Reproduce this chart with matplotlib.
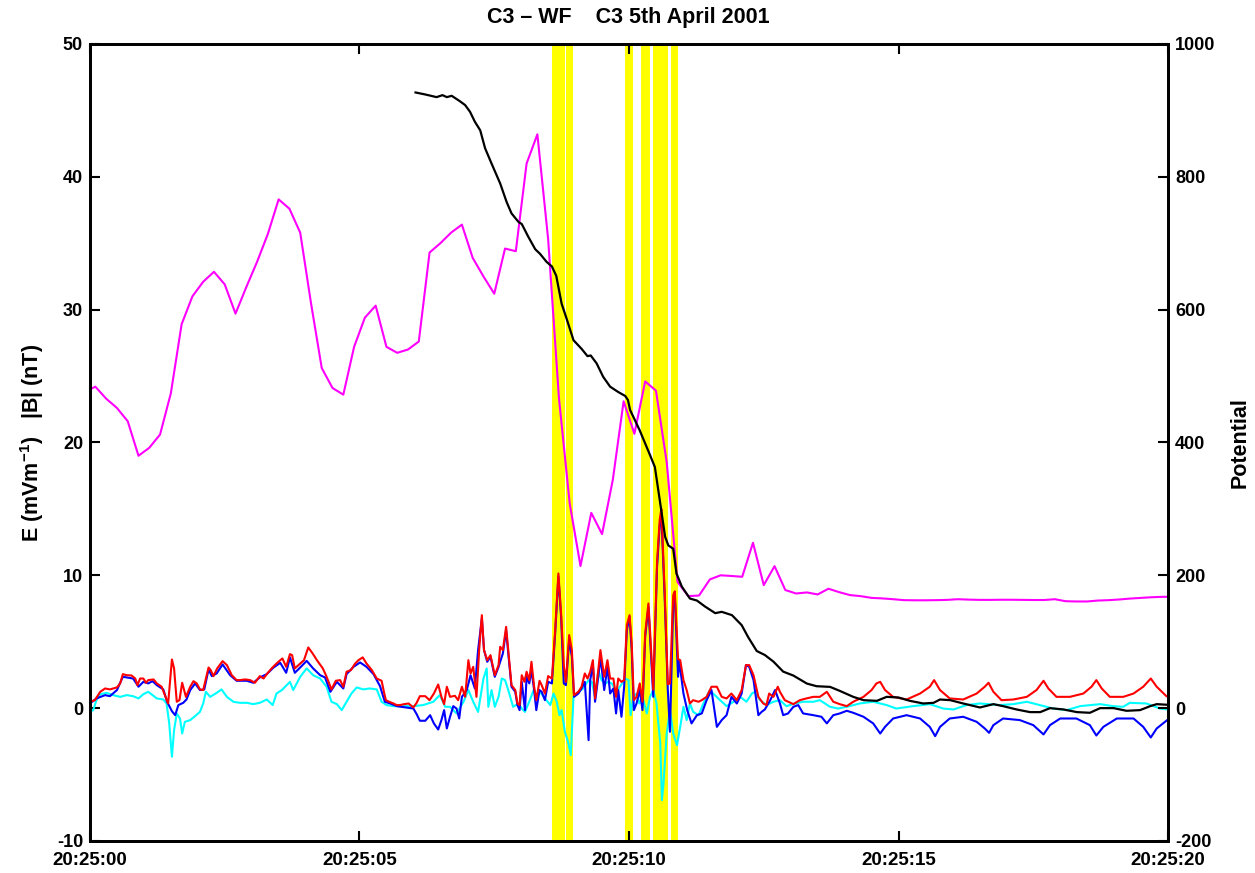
import matplotlib
matplotlib.use("Agg")
import matplotlib.pyplot as plt
import numpy as np

### STYLE ###

plt.rcParams['font.family'] = ['Liberation Sans', 'DejaVu Sans']
plt.rcParams['font.weight'] = 'bold'
plt.rcParams['font.size'] = 13
plt.rcParams['axes.unicode_minus'] = False
plt.rcParams['mathtext.fontset'] = 'custom'
plt.rcParams['mathtext.rm'] = 'Liberation Sans:bold'
plt.rcParams['mathtext.it'] = 'Liberation Sans:bold'
plt.rcParams['mathtext.bf'] = 'Liberation Sans:bold'

### DATA ###

TITLE = "C3 \u2013 WF    C3 5th April 2001"
x_ticks = [0, 5, 10, 15, 20]
x_labels = ["20:25:00", "20:25:05", "20:25:10", "20:25:15", "20:25:20"]

# highlighted intervals (seconds after 20:25:00)
bands = [(8.57, 8.81), (8.83, 8.97), (9.93, 10.07),
         (10.22, 10.39), (10.45, 10.72), (10.78, 10.90)]

# |B| (nT), one sample every 0.2 s starting at -0.1 s
b_start, b_step = -0.1, 0.2
b_vals = [23.8, 24.2, 23.3, 22.6, 21.6, 19.0, 19.6, 20.6, 23.7, 28.9,
          31.0, 32.1, 32.85, 31.9, 29.7, 31.7, 33.6, 35.7, 38.3, 37.6,
          35.8, 30.5, 25.6, 24.1, 23.6, 27.2, 29.4, 30.3, 27.2, 26.75,
          27.0, 27.6, 34.3, 35.0, 35.8, 36.4, 33.9, 32.5, 31.2, 34.6,
          34.4, 41.0, 43.2, 35.3, 23.35, 15.4, 10.7, 14.7, 13.1, 17.2,
          23.1, 20.65, 24.6, 23.9, 18.5, 9.5, 8.43, 8.48, 9.69, 10.0,
          9.95, 9.89, 12.45, 9.26, 10.69, 8.89, 8.63, 8.71, 8.56, 8.99,
          8.73, 8.51, 8.43, 8.3, 8.26, 8.2, 8.13, 8.12, 8.12, 8.13,
          8.15, 8.2, 8.17, 8.15, 8.15, 8.16, 8.16, 8.15, 8.14, 8.14,
          8.2, 8.05, 8.03, 8.03, 8.1, 8.13, 8.18, 8.25, 8.3, 8.35,
          8.38, 8.38]

# potential (right axis): (time, value)
pot_pts = [(6.04, 927), (6.22, 924), (6.43, 920), (6.54, 923), (6.62, 920),
           (6.71, 922), (6.86, 914), (6.96, 908), (7.05, 898), (7.14, 883),
           (7.24, 870), (7.33, 843), (7.45, 820), (7.61, 790), (7.73, 762),
           (7.82, 745), (7.95, 732), (8.01, 729), (8.13, 710), (8.26, 691),
           (8.35, 684), (8.47, 672), (8.57, 665), (8.65, 651), (8.75, 609),
           (8.84, 587), (8.97, 554), (9.12, 541), (9.23, 530), (9.29, 531),
           (9.40, 519), (9.52, 499), (9.65, 484), (9.80, 476), (9.93, 470),
           (9.98, 464), (10.02, 449), (10.20, 418), (10.39, 381), (10.48, 363),
           (10.58, 308), (10.67, 258), (10.73, 245), (10.82, 240), (10.88, 203),
           (10.98, 183), (11.13, 165), (11.26, 162), (11.41, 153), (11.60, 143),
           (11.72, 145), (11.91, 140), (12.09, 125), (12.21, 107), (12.37, 86),
           (12.52, 80), (12.68, 70), (12.86, 55), (13.05, 49), (13.30, 37),
           (13.48, 33), (13.73, 32), (13.91, 26), (14.16, 17), (14.35, 12),
           (14.60, 11), (14.78, 17), (15.00, 16), (15.21, 11), (15.46, 7),
           (15.65, 8), (15.77, 13), (15.96, 12), (16.20, 7), (16.51, 1),
           (16.76, 6), (16.94, 3), (17.19, -2), (17.44, -6), (17.63, -6),
           (17.81, 0), (18.06, -2), (18.31, -6), (18.55, -7), (18.74, 0),
           (18.99, 0), (19.23, -4), (19.48, -3), (19.67, 3), (19.79, 6),
           (20.00, 5)]

# E components (mV/m): (time, value)
e_red = [(0.00, 0.48), (0.09, 0.60), (0.19, 1.23), (0.28, 1.48), (0.37, 1.41),
         (0.50, 1.56), (0.56, 1.86), (0.61, 2.56), (0.68, 2.48), (0.77, 2.46),
         (0.84, 2.23), (0.88, 1.73), (0.93, 2.23), (0.99, 2.23), (1.04, 1.91),
         (1.08, 2.11), (1.18, 2.16), (1.24, 1.86), (1.33, 1.61), (1.39, 0.98),
         (1.45, 0.35), (1.52, 3.66), (1.56, 2.99), (1.61, 0.48), (1.66, 0.60),
         (1.71, 1.91), (1.78, 0.85), (1.86, 1.61), (1.92, 2.03), (1.98, 1.86),
         (2.04, 1.41), (2.10, 1.36), (2.20, 3.06), (2.24, 2.86), (2.29, 2.41),
         (2.36, 2.99), (2.46, 3.54), (2.54, 3.24), (2.63, 2.48), (2.72, 2.11),
         (2.78, 2.11), (2.88, 2.16), (2.97, 2.11), (3.06, 1.91), (3.15, 2.41),
         (3.22, 2.23), (3.29, 2.61), (3.37, 2.99), (3.46, 3.36), (3.53, 3.61),
         (3.57, 3.74), (3.64, 3.11), (3.71, 4.07), (3.75, 3.99), (3.80, 2.99),
         (3.90, 3.36), (3.97, 3.61), (4.05, 4.57), (4.13, 4.12), (4.21, 3.61),
         (4.32, 2.99), (4.39, 2.36), (4.48, 1.41), (4.56, 2.06), (4.64, 2.11),
         (4.70, 1.61), (4.76, 2.74), (4.84, 2.86), (4.92, 3.36), (4.98, 3.61),
         (5.06, 3.82), (5.13, 3.36), (5.23, 2.86), (5.32, 2.23), (5.41, 2.06),
         (5.46, 1.10), (5.49, 0.60), (5.55, 0.48), (5.63, 0.35), (5.69, 0.23),
         (5.75, 0.23), (5.83, 0.30), (5.91, 0.35), (6.00, 0.05), (6.06, 0.40),
         (6.12, 0.90), (6.22, 0.90), (6.30, 0.60), (6.38, 1.10), (6.46, 1.78),
         (6.52, 0.85), (6.57, 0.30), (6.62, 1.61), (6.68, 0.85), (6.77, 0.93),
         (6.83, 0.60), (6.90, 1.61), (6.96, 0.85), (7.02, 3.61), (7.06, 2.61),
         (7.11, 3.11), (7.17, 0.85), (7.22, 4.37), (7.27, 7.00), (7.31, 4.37),
         (7.37, 3.61), (7.43, 3.99), (7.51, 2.48), (7.58, 3.24), (7.61, 4.62),
         (7.66, 4.37), (7.72, 6.12), (7.76, 4.37), (7.82, 1.73), (7.89, 1.36),
         (7.93, 0.35), (7.97, 0.23), (8.01, 2.48), (8.06, 1.98), (8.10, 2.74),
         (8.15, 2.11), (8.19, 3.49), (8.24, 1.61), (8.28, 0.60), (8.34, 2.06),
         (8.38, 1.73), (8.44, 1.10), (8.50, 2.41), (8.57, 2.23), (8.63, 5.87),
         (8.69, 10.14), (8.74, 7.13), (8.79, 3.24), (8.83, 1.98), (8.89, 5.50),
         (8.94, 4.37), (8.98, 0.98), (9.06, 1.23), (9.12, 1.61), (9.18, 2.61),
         (9.23, 2.23), (9.28, 2.74), (9.33, 3.61), (9.37, 0.73), (9.43, 2.86),
         (9.47, 4.37), (9.54, 2.36), (9.60, 3.61), (9.65, 2.23), (9.71, 2.23),
         (9.76, 0.85), (9.80, 2.23), (9.86, 1.98), (9.91, 2.11), (9.96, 6.25),
         (10.01, 7.00), (10.05, 4.87), (10.09, 0.60), (10.14, 0.85), (10.20, 1.86),
         (10.25, 0.48), (10.30, 5.62), (10.36, 7.88), (10.39, 5.87), (10.45, 1.40),
         (10.52, 11.0), (10.57, 14.2), (10.60, 15.0), (10.66, 9.0), (10.72, 1.8),
         (10.76, 1.86), (10.82, 8.5), (10.85, 8.8), (10.91, 3.7), (10.95, 3.61),
         (11.01, 2.11), (11.07, 1.36), (11.13, 0.35), (11.19, 0.60), (11.29, 0.48),
         (11.35, 0.60), (11.44, 0.85), (11.53, 1.61), (11.63, 1.61), (11.72, 0.85),
         (11.81, 0.73), (11.90, 1.10), (12.00, 0.60), (12.09, 1.36), (12.17, 3.24),
         (12.23, 3.24), (12.31, 2.48), (12.40, 0.85), (12.49, 0.35), (12.55, 0.23),
         (12.60, 1.10), (12.68, 0.85), (12.76, 1.61), (12.80, 1.23), (12.89, 0.60),
         (13.05, 0.30), (13.17, 0.60), (13.29, 0.73), (13.42, 0.85), (13.54, 0.85),
         (13.67, 1.23), (13.79, 0.48), (13.91, 0.30), (14.04, 0.15), (14.16, 0.48),
         (14.35, 0.85), (14.50, 1.36), (14.59, 1.86), (14.66, 1.98), (14.75, 1.36),
         (14.90, 0.85), (15.15, 0.65), (15.40, 1.10), (15.58, 1.61), (15.66, 2.11),
         (15.77, 1.36), (15.95, 0.73), (16.20, 0.65), (16.45, 1.10), (16.60, 1.61),
         (16.67, 1.91), (16.76, 1.23), (16.91, 0.60), (17.13, 0.65), (17.38, 0.85),
         (17.56, 1.36), (17.69, 2.06), (17.78, 1.48), (17.93, 0.85), (18.18, 0.85),
         (18.43, 1.10), (18.58, 1.61), (18.67, 2.11), (18.77, 1.48), (18.92, 0.85),
         (19.17, 0.85), (19.36, 1.10), (19.54, 1.61), (19.68, 2.23), (19.79, 1.61),
         (19.97, 0.90), (20.00, 0.85)]

e_blue = [(0.00, 0.35), (0.12, 0.73), (0.28, 0.98), (0.37, 0.90), (0.50, 1.36),
          (0.61, 2.36), (0.68, 2.31), (0.80, 2.23), (0.90, 1.61), (0.99, 1.98),
          (1.08, 1.86), (1.16, 2.03), (1.24, 1.73), (1.36, 1.41), (1.43, 0.48),
          (1.52, -0.23), (1.58, -0.53), (1.64, 0.23), (1.73, 0.40), (1.79, 0.65),
          (1.86, 1.36), (1.95, 1.86), (2.04, 1.36), (2.12, 1.41), (2.20, 2.91),
          (2.26, 2.41), (2.35, 2.61), (2.46, 3.29), (2.60, 2.48), (2.72, 2.06),
          (2.91, 2.06), (3.03, 1.91), (3.15, 2.31), (3.28, 2.56), (3.40, 3.04),
          (3.53, 3.41), (3.64, 2.66), (3.71, 3.82), (3.80, 2.66), (3.90, 3.06),
          (4.02, 3.56), (4.14, 2.99), (4.27, 2.48), (4.36, 2.31), (4.46, 1.23),
          (4.58, 1.98), (4.70, 1.48), (4.76, 2.56), (4.89, 3.11), (5.01, 3.44),
          (5.13, 3.11), (5.26, 2.56), (5.38, 1.66), (5.47, 0.48), (5.57, 0.35),
          (5.69, 0.15), (6.00, -0.03), (6.06, -0.45), (6.12, -0.95), (6.22, -0.95),
          (6.31, -0.53), (6.38, -1.15), (6.46, -1.61), (6.52, -0.90), (6.57, -0.15),
          (6.62, -1.53), (6.68, -0.65), (6.74, 0.15), (6.80, -0.03), (6.85, -0.78),
          (6.90, 0.85), (6.99, 1.36), (7.06, 2.48), (7.14, 1.48), (7.20, 4.37),
          (7.27, 6.75), (7.31, 4.37), (7.37, 3.49), (7.43, 3.87), (7.51, 2.36),
          (7.58, 3.11), (7.62, 3.61), (7.66, 4.12), (7.72, 5.87), (7.76, 4.12),
          (7.82, 1.61), (7.89, 1.23), (7.93, 0.23), (7.97, -0.15), (8.01, 1.98),
          (8.07, -0.15), (8.10, 2.36), (8.15, 1.86), (8.19, 2.86), (8.24, 1.36),
          (8.28, -0.15), (8.34, 1.36), (8.38, 1.23), (8.44, 0.60), (8.50, 1.98),
          (8.57, 1.86), (8.63, 5.62), (8.69, 9.89), (8.74, 6.88), (8.79, 1.86),
          (8.83, 1.73), (8.89, 5.12), (8.94, 3.87), (8.98, 0.85), (9.06, 1.10),
          (9.12, 1.48), (9.18, 1.98), (9.25, -2.41), (9.28, 2.11), (9.33, 3.24),
          (9.37, 0.48), (9.43, 2.36), (9.47, 3.87), (9.54, 1.36), (9.60, 3.11),
          (9.65, 1.10), (9.71, 1.48), (9.76, -0.40), (9.80, 1.36), (9.86, -0.65),
          (9.91, 1.61), (9.96, 5.87), (10.01, 6.88), (10.05, 4.37), (10.09, -0.15),
          (10.14, 0.35), (10.20, 1.36), (10.25, -0.15), (10.30, 5.37), (10.36, 7.63),
          (10.39, 5.37), (10.45, 0.85), (10.52, 10.6), (10.57, 13.8), (10.60, 14.6),
          (10.66, 8.5), (10.72, 1.36), (10.76, -1.78), (10.82, 7.9), (10.85, 8.4),
          (10.91, 2.36), (10.93, 3.61), (11.01, 1.10), (11.08, -0.15), (11.16, -1.15),
          (11.26, -0.53), (11.35, -0.40), (11.44, 0.60), (11.53, 1.36), (11.63, -1.41),
          (11.72, -0.90), (11.81, -0.53), (11.90, 0.85), (12.00, 0.35), (12.09, 1.10),
          (12.17, 3.24), (12.23, 3.11), (12.31, 2.11), (12.40, -0.53), (12.46, -0.28),
          (12.52, -0.10), (12.62, 0.60), (12.71, 1.36), (12.80, 0.35), (12.86, -0.53),
          (12.95, -0.40), (13.05, 0.10), (13.14, 0.23), (13.23, -0.40), (13.42, -0.53),
          (13.57, -0.65), (13.67, -1.15), (13.79, -0.53), (13.91, -0.40), (14.04, -0.20),
          (14.16, -0.35), (14.35, -0.65), (14.53, -1.15), (14.66, -1.91), (14.75, -1.41),
          (14.90, -0.78), (15.15, -0.53), (15.40, -0.78), (15.58, -1.41), (15.68, -2.11),
          (15.77, -1.41), (15.95, -0.78), (16.20, -0.65), (16.45, -1.03), (16.60, -1.53),
          (16.68, -1.86), (16.76, -1.28), (16.94, -0.78), (17.25, -0.90), (17.50, -1.28),
          (17.69, -1.98), (17.81, -1.28), (18.00, -0.78), (18.30, -0.78), (18.55, -1.28),
          (18.67, -2.06), (18.80, -1.41), (19.05, -0.78), (19.36, -0.78), (19.54, -1.41),
          (19.68, -2.21), (19.79, -1.53), (20.00, -0.85)]

e_cyan = [(0.00, -0.28), (0.06, -0.15), (0.12, 0.60), (0.19, 1.05), (0.31, 1.15),
          (0.43, 0.98), (0.56, 0.85), (0.68, 0.98), (0.80, 0.90), (0.90, 0.73),
          (0.99, 1.05), (1.08, 1.23), (1.16, 0.98), (1.24, 0.73), (1.36, 0.65),
          (1.42, 0.35), (1.47, -1.15), (1.52, -3.66), (1.56, -1.66), (1.61, -0.40),
          (1.67, -0.78), (1.71, -1.91), (1.76, -1.03), (1.86, -0.90), (1.95, -0.60),
          (2.04, -0.28), (2.10, 0.35), (2.15, 1.23), (2.23, 0.85), (2.35, 1.15),
          (2.44, 1.41), (2.54, 0.85), (2.66, 0.48), (2.78, 0.40), (2.91, 0.40),
          (3.03, 0.30), (3.15, 0.40), (3.28, 0.65), (3.39, 0.23), (3.46, 1.10),
          (3.56, 1.36), (3.62, 1.61), (3.71, 1.98), (3.77, 1.36), (3.90, 2.36),
          (4.02, 2.99), (4.14, 2.48), (4.27, 2.23), (4.39, 1.61), (4.48, 0.48),
          (4.58, 0.30), (4.67, -0.15), (4.76, 0.48), (4.85, 1.10), (4.95, 1.56),
          (5.07, 1.41), (5.19, 1.48), (5.32, 1.41), (5.41, 0.48), (5.50, 0.23),
          (5.63, 0.15), (6.00, 0.15), (6.18, 0.23), (6.37, 0.48), (6.49, 0.98),
          (6.59, 0.10), (6.68, 0.10), (6.80, -0.40), (6.93, 0.48), (7.02, 1.36),
          (7.11, 0.48), (7.20, -0.28), (7.30, 2.23), (7.36, 2.99), (7.39, 0.10),
          (7.45, 1.36), (7.51, 0.10), (7.58, 0.85), (7.64, 2.23), (7.70, 2.11),
          (7.76, 1.36), (7.85, 0.10), (7.95, 0.35), (8.01, -0.03), (8.07, -0.28),
          (8.16, 0.60), (8.23, 1.36), (8.29, 0.85), (8.35, 1.23), (8.44, 0.73),
          (8.54, 0.23), (8.60, 1.10), (8.66, 0.48), (8.71, -0.53), (8.75, -0.15),
          (8.81, -1.78), (8.87, -2.54), (8.92, -3.54), (8.97, 0.85), (9.06, 1.23),
          (9.15, 1.48), (9.25, 2.11), (9.31, 1.98), (9.37, 0.85), (9.43, 2.86),
          (9.49, 2.11), (9.56, 1.86), (9.62, 1.98), (9.68, 1.86), (9.77, 1.23),
          (9.83, 1.61), (9.93, 2.23), (9.99, 2.11), (10.03, -0.53), (10.08, 0.85),
          (10.14, 1.10), (10.19, 0.35), (10.25, 0.85), (10.33, -0.40), (10.39, 0.85),
          (10.45, 1.36), (10.51, 0.35), (10.58, -2.66), (10.61, -6.93), (10.64, -5.67),
          (10.70, -1.91), (10.76, -0.15), (10.82, -1.91), (10.89, -2.79), (10.95, -1.41),
          (11.01, 0.10), (11.07, -0.90), (11.13, 0.35), (11.19, -0.28), (11.29, -0.53),
          (11.38, 0.35), (11.50, 1.36), (11.56, 1.10), (11.69, 0.60), (11.81, 0.15),
          (11.94, 0.48), (12.06, 0.85), (12.18, 0.48), (12.28, 1.10), (12.34, 1.23),
          (12.43, 0.60), (12.55, 0.23), (12.68, 0.48), (12.80, 0.60), (12.92, 0.15),
          (13.08, 0.35), (13.23, 0.48), (13.42, 0.48), (13.54, 0.60), (13.73, 0.10),
          (13.88, -0.03), (14.04, 0.10), (14.28, 0.35), (14.53, 0.48), (14.78, 0.23),
          (14.96, -0.03), (15.27, 0.15), (15.58, 0.30), (15.83, -0.03), (16.02, -0.10),
          (16.26, 0.23), (16.51, 0.35), (16.88, 0.23), (17.13, 0.30), (17.38, 0.48),
          (17.62, 0.23), (17.87, -0.03), (18.12, -0.15), (18.37, 0.15), (18.74, 0.30),
          (18.98, 0.15), (19.17, 0.10), (19.29, 0.40), (19.60, 0.35), (19.85, -0.03),
          (20.00, -0.10)]


### PLOTTING ###

def split(points):
    """ Split (time, value) pairs into two arrays """
    arr = np.asarray(points, dtype=float)
    return arr[:, 0], arr[:, 1]


fig = plt.figure(figsize=(12.55, 8.73), dpi=100)
ax = fig.add_axes([0.0717, 0.0367, 0.8590, 0.9129])
ax2 = ax.twinx()

for start, end in bands:
    ax.axvspan(start, end, color="#ffff00", lw=0, zorder=0)

b_t = b_start + b_step * np.arange(len(b_vals))
ax.plot(b_t, b_vals, color="#ff00ff", lw=1.5, zorder=2)

for pts, col in [(e_cyan, "#00ffff"), (e_blue, "#0000ff"), (e_red, "#ff0000")]:
    t, v = split(pts)
    ax.plot(t, v, color=col, lw=1.5, zorder=3)

pt, pv = split(pot_pts)
ax2.plot(pt, pv, color="black", lw=1.6)

ax.set_xlim(0, 20)
ax.set_ylim(-10, 50)
ax2.set_ylim(-200, 1000)
ax.set_xticks(x_ticks, x_labels)
ax.set_yticks(np.arange(-10, 51, 10))
ax2.set_yticks(np.arange(-200, 1001, 200))

ax.tick_params(direction="in", length=7, width=1.5, top=True, right=False,
               labelsize=13, pad=5)
ax.tick_params(axis="x", pad=8, labelsize=13.5)
ax2.tick_params(direction="in", length=7, width=1.5, labelsize=13, pad=5)
for a in (ax, ax2):
    for sp in a.spines.values():
        sp.set_linewidth(2)

ax.set_ylabel(r"E (mVm$^{-1}$)   |B| (nT)", fontsize=15.5, fontweight="bold")
ax.yaxis.set_label_coords(-0.041, 0.5)
ax2.set_ylabel("Potential", fontsize=15.5, fontweight="bold")
ax2.yaxis.set_label_coords(1.0575, 0.5)

fig.text(0.5004, 1 - 18 / 873, TITLE, ha="center", va="center",
         fontsize=15.5, fontweight="bold")

fig.savefig("out.png", dpi=100)
